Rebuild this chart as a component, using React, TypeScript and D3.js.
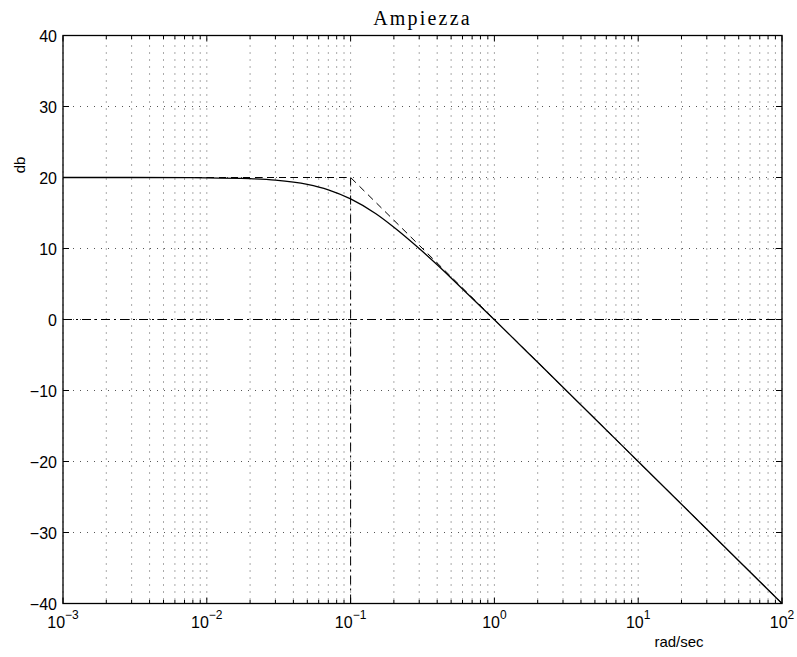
import React from "react";
import * as d3 from "d3";

// magnitude (rad/sec, dB)
const freqs = [0.001, 0.003, 0.01, 0.02, 0.03, 0.05, 0.07, 0.1, 0.15, 0.2, 0.3, 0.4, 0.5, 0.7, 1, 2, 5, 10, 30, 100];
const magDb = [20, 20, 19.96, 19.83, 19.63, 19.03, 18.27, 16.99, 14.9, 13.0, 10.0, 7.7, 5.85, 3.0, -0.04, -6.03, -13.98, -20.0, -29.54, -40.0];

// asymptotic approximation
const asymFreqs = [0.001, 0.1, 100];
const asymDb = [20, 20, -40];

const yTicks = [-40, -30, -20, -10, 0, 10, 20, 30, 40];
const xDecades = [-3, -2, -1, 0, 1, 2];

const W = 797, H = 657;
const M = { left: 63, right: 782, top: 35.5, bottom: 603.5 };

export default function App() {
  const x = d3.scaleLog().domain([1e-3, 1e2]).range([M.left, M.right]);
  const y = d3.scaleLinear().domain([-40, 40]).range([M.bottom, M.top]);

  const minor: number[] = [];
  xDecades.slice(0, -1).forEach((e) => {
    for (let k = 2; k <= 9; k++) minor.push(k * Math.pow(10, e));
  });
  const majors = xDecades.map((e) => Math.pow(10, e));

  const line = d3.line<number>()
    .x((d, i) => x(freqs[i]))
    .y((d) => y(d))
    .curve(d3.curveMonotoneX);
  const asym = d3.line<number>()
    .x((d, i) => x(asymFreqs[i]))
    .y((d) => y(d));

  const grid = { stroke: "#555", strokeWidth: 1, strokeDasharray: "1 6" };
  const tl = 6;
  const font = "'Liberation Sans', Arial, sans-serif";

  return (
    <svg width={W} height={H} style={{ position: "absolute", left: 0, top: 0, background: "#fff" }}>
      <rect x={0} y={0} width={W} height={H} fill="#fff" />
      {/* grid */}
      {[...majors, ...minor].map((v, i) => (
        <line key={"gx" + i} x1={x(v)} x2={x(v)} y1={M.top + 3} y2={M.bottom} {...grid} />
      ))}
      {yTicks.map((v, i) => (
        <line key={"gy" + i} x1={M.left + 3} x2={M.right} y1={y(v)} y2={y(v)} {...grid} />
      ))}
      {/* ticks */}
      {[...majors, ...minor].map((v, i) => (
        <g key={"tx" + i} stroke="#000" strokeWidth={1}>
          <line x1={x(v)} x2={x(v)} y1={M.bottom} y2={M.bottom - (i < majors.length ? tl : tl * 0.6)} />
          <line x1={x(v)} x2={x(v)} y1={M.top} y2={M.top + (i < majors.length ? tl : tl * 0.6)} />
        </g>
      ))}
      {yTicks.map((v, i) => (
        <g key={"ty" + i} stroke="#000" strokeWidth={1}>
          <line x1={M.left} x2={M.left + tl} y1={y(v)} y2={y(v)} />
          <line x1={M.right} x2={M.right - tl} y1={y(v)} y2={y(v)} />
        </g>
      ))}
      {/* dash-dot reference lines */}
      <line x1={M.left} x2={M.right} y1={y(0)} y2={y(0)} stroke="#000" strokeWidth={1} strokeDasharray="9 4 2 4" />
      <line x1={x(0.1)} x2={x(0.1)} y1={M.bottom} y2={y(20)} stroke="#000" strokeWidth={1} strokeDasharray="9 4 2 4" />
      {/* asymptote */}
      <path d={asym(asymDb) || ""} fill="none" stroke="#000" strokeWidth={1} strokeDasharray="7 5" />
      {/* magnitude */}
      <path d={line(magDb) || ""} fill="none" stroke="#000" strokeWidth={1.3} />
      {/* frame */}
      <rect x={M.left} y={M.top} width={M.right - M.left} height={M.bottom - M.top} fill="none" stroke="#000" strokeWidth={1.3} />
      {/* y labels */}
      {yTicks.map((v, i) => (
        <text key={"ly" + i} x={M.left - 6} y={y(v) + 6} textAnchor="end" fontFamily={font} fontSize={16}>
          {v < 0 ? "\u2212" + Math.abs(v) : v}
        </text>
      ))}
      {/* x labels */}
      {xDecades.map((e, i) => (
        <text key={"lx" + i} x={x(Math.pow(10, e))} y={628} textAnchor="middle" fontFamily={font} fontSize={16}>
          10
          <tspan dy={-9} fontSize={12}>{e < 0 ? "\u2212" + Math.abs(e) : e}</tspan>
        </text>
      ))}
      <text x={679} y={647} textAnchor="middle" fontFamily={font} fontSize={15}>rad/sec</text>
      <text transform="translate(25,165) rotate(-90)" textAnchor="middle" fontFamily={font} fontSize={15}>db</text>
      <text x={(M.left + M.right) / 2} y={25} textAnchor="middle" fontFamily="'Liberation Serif', 'Times New Roman', serif" fontSize={20} letterSpacing={2.2}>Ampiezza</text>
    </svg>
  );
}
